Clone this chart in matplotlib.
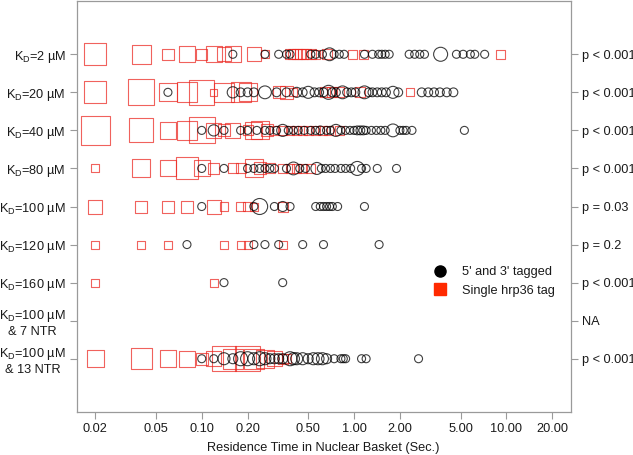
import matplotlib
matplotlib.use('Agg')
import matplotlib.pyplot as plt
from matplotlib.lines import Line2D

plt.rcParams['font.family'] = ['Liberation Sans', 'DejaVu Sans']
plt.rcParams['mathtext.fontset'] = 'custom'
plt.rcParams['mathtext.rm'] = 'Liberation Sans'
plt.rcParams['mathtext.it'] = 'Liberation Sans:italic'
plt.rcParams['mathtext.default'] = 'regular'

# ---------------- data ----------------
row_labels = [r'K$_{D}$=2 µM', r'K$_{D}$=20 µM', r'K$_{D}$=40 µM', r'K$_{D}$=80 µM',
              r'K$_{D}$=100 µM', r'K$_{D}$=120 µM', r'K$_{D}$=160 µM',
              'K$_{D}$=100 µM\n& 7 NTR', 'K$_{D}$=100 µM\n& 13 NTR']
p_labels = ['p < 0.001', 'p < 0.001', 'p < 0.001', 'p < 0.001', 'p = 0.03',
            'p = 0.2', 'p < 0.001', 'NA', 'p < 0.001']
x_ticks = [0.02, 0.05, 0.1, 0.2, 0.5, 1, 2, 5, 10, 20]
x_tick_labels = ['0.02', '0.05', '0.10', '0.20', '0.50', '1.00', '2.00', '5.00', '10.00', '20.00']

# Single hrp36 tag (squares): residence times and relative marker size
sq_times = [
    [0.02, 0.04, 0.06, 0.08, 0.10, 0.12, 0.14, 0.16, 0.22, 0.26, 0.38, 0.40, 0.42, 0.44, 0.46, 0.48, 0.52, 0.56, 0.66, 0.98, 1.16, 9.2],
    [0.02, 0.04, 0.06, 0.08, 0.10, 0.12, 0.14, 0.18, 0.20, 0.32, 0.36, 0.40, 0.64, 0.72, 0.80, 1.10, 2.34],
    [0.02, 0.04, 0.06, 0.08, 0.10, 0.12, 0.14, 0.16, 0.20, 0.22, 0.24, 0.27, 0.30, 0.34, 0.38, 0.42, 0.46, 0.50, 0.56, 0.62, 0.68, 0.80],
    [0.02, 0.04, 0.06, 0.08, 0.10, 0.12, 0.16, 0.18, 0.22, 0.24, 0.28, 0.34, 0.38, 0.42, 0.46, 0.52],
    [0.02, 0.04, 0.06, 0.08, 0.12, 0.14, 0.18, 0.20, 0.22, 0.34],
    [0.02, 0.04, 0.06, 0.14, 0.18, 0.20, 0.34],
    [0.02, 0.12],
    [],
    [0.02, 0.04, 0.06, 0.08, 0.10, 0.12, 0.14, 0.16, 0.20, 0.22, 0.26, 0.30, 0.34, 0.36],
]
sq_sizes = [
    [2.75, 2.4, 1.4, 2.0, 1.4, 2.0, 1.75, 2.0, 1.75, 1.0, 1.25, 1.25, 1.25, 1.25, 1.25, 1.25, 1.25, 1.1, 1.25, 1.1, 1.1, 1.1],
    [2.75, 3.25, 2.25, 2.5, 3.1, 0.9, 2.4, 2.5, 2.25, 1.5, 1.6, 1.0, 1.25, 1.25, 1.25, 1.25, 1.0],
    [3.6, 3.0, 2.1, 2.4, 3.25, 1.9, 1.5, 1.9, 1.25, 2.1, 2.25, 1.5, 1.1, 1.1, 1.1, 1.1, 1.1, 1.1, 1.1, 1.1, 1.1, 1.1],
    [1.0, 2.25, 2.0, 2.75, 2.0, 1.4, 1.25, 1.25, 2.25, 1.5, 1.25, 1.1, 1.1, 1.1, 1.1, 1.1],
    [1.75, 1.5, 1.5, 1.5, 1.75, 1.1, 1.1, 1.1, 1.0, 1.25],
    [1.0, 1.0, 1.0, 1.0, 1.0, 1.0, 1.0],
    [1.0, 1.0],
    [],
    [2.1, 2.6, 2.1, 2.0, 1.5, 1.9, 3.1, 2.5, 3.1, 2.5, 2.25, 1.9, 1.25, 1.1],
]

# 5' and 3' tagged (circles): residence times and relative marker size
ci_times = [
    [0.16, 0.26, 0.32, 0.36, 0.38, 0.52, 0.56, 0.62, 0.69, 0.74, 0.80, 0.86, 1.17, 1.32, 1.45, 1.52, 1.60, 1.70, 2.3, 2.5, 2.7, 2.9, 3.7, 4.7, 5.2, 5.8, 6.2, 7.2],
    [0.06, 0.16, 0.18, 0.20, 0.22, 0.26, 0.31, 0.36, 0.42, 0.46, 0.50, 0.55, 0.59, 0.63, 0.68, 0.72, 0.76, 0.84, 0.90, 0.96, 1.02, 1.17, 1.25, 1.32, 1.42, 1.52, 1.62, 1.8, 1.95, 2.78, 3.07, 3.35, 3.66, 4.06, 4.49],
    [0.10, 0.12, 0.14, 0.18, 0.20, 0.23, 0.26, 0.28, 0.31, 0.34, 0.37, 0.40, 0.43, 0.47, 0.52, 0.56, 0.60, 0.66, 0.70, 0.76, 0.82, 0.88, 0.94, 1.00, 1.05, 1.10, 1.15, 1.20, 1.30, 1.40, 1.50, 1.60, 1.80, 2.0, 2.1, 2.2, 2.4, 5.3],
    [0.10, 0.14, 0.20, 0.22, 0.24, 0.26, 0.28, 0.30, 0.36, 0.40, 0.44, 0.48, 0.57, 0.61, 0.65, 0.70, 0.75, 0.82, 0.88, 0.95, 1.05, 1.12, 1.20, 1.42, 1.90],
    [0.10, 0.22, 0.24, 0.30, 0.34, 0.38, 0.56, 0.60, 0.63, 0.66, 0.69, 0.72, 0.78, 1.17],
    [0.08, 0.22, 0.26, 0.32, 0.46, 0.63, 1.46],
    [0.14, 0.34],
    [],
    [0.10, 0.12, 0.14, 0.16, 0.18, 0.20, 0.22, 0.24, 0.26, 0.28, 0.30, 0.32, 0.34, 0.38, 0.40, 0.42, 0.46, 0.50, 0.54, 0.58, 0.62, 0.66, 0.74, 0.82, 0.85, 0.88, 1.12, 1.20, 2.65],
]
ci_sizes = [
    [1.0, 1.0, 1.0, 1.0, 1.0, 1.0, 1.0, 1.0, 1.6, 1.0, 1.0, 1.0, 1.0, 1.0, 1.0, 1.0, 1.0, 1.0, 1.0, 1.0, 1.0, 1.0, 1.75, 1.0, 1.0, 1.0, 1.0, 1.0],
    [1.0, 1.4, 1.1, 1.1, 1.1, 1.6, 1.1, 1.1, 1.25, 1.1, 1.5, 1.1, 1.1, 1.1, 1.75, 1.1, 1.1, 1.6, 1.1, 1.1, 1.1, 1.6, 1.1, 1.1, 1.1, 1.1, 1.1, 1.5, 1.1, 1.1, 1.1, 1.1, 1.1, 1.1, 1.1],
    [1.0, 1.4, 1.0, 1.0, 1.0, 1.0, 1.0, 1.0, 1.0, 1.5, 1.0, 1.0, 1.0, 1.0, 1.0, 1.0, 1.1, 1.0, 1.0, 1.5, 1.0, 1.0, 1.0, 1.0, 1.1, 1.1, 1.1, 1.0, 1.0, 1.0, 1.0, 1.0, 1.6, 1.0, 1.0, 1.0, 1.0, 1.0],
    [1.0, 1.0, 1.0, 1.0, 1.0, 1.0, 1.0, 1.0, 1.0, 1.6, 1.0, 1.0, 1.5, 1.0, 1.0, 1.0, 1.0, 1.0, 1.0, 1.0, 1.75, 1.0, 1.0, 1.0, 1.0],
    [1.0, 1.0, 2.0, 1.0, 1.25, 1.0, 1.0, 1.0, 1.0, 1.0, 1.0, 1.0, 1.0, 1.0],
    [1.0, 1.0, 1.0, 1.0, 1.0, 1.0, 1.0],
    [1.0, 1.0],
    [],
    [1.0, 1.0, 1.5, 1.25, 1.75, 1.75, 1.5, 1.75, 1.5, 1.25, 1.25, 1.25, 1.25, 1.75, 1.5, 1.5, 1.5, 1.25, 1.5, 1.5, 1.5, 1.25, 1.0, 1.0, 1.0, 1.0, 1.0, 1.0, 1.0],
]
legend_labels = ["5' and 3' tagged", 'Single hrp36 tag']

# ---------------- plot ----------------
BASE_PX = 8.0          # marker size (pixels) for relative size 1
PT_PER_PX = 0.72
FS = 9.2
red_edge = (0.92, 0.15, 0.12, 0.72)
black_edge = (0.0, 0.0, 0.0, 0.75)
frame_col = '#9a9a9a'
text_col = '#1a1a1a'

fig = plt.figure(figsize=(6.33, 4.55), dpi=100)
ax = fig.add_axes([0.1216, 0.0945, 0.9013 - 0.1216, 0.9978 - 0.0945])
ax.set_xscale('log')
ax.set_xlim(10 ** -1.819, 10 ** 1.421)
ax.set_ylim(-0.4, 10.4)

n_rows = len(row_labels)
ypos = [n_rows - i for i in range(n_rows)]

for i in range(n_rows):
    y = ypos[i]
    if sq_times[i]:
        ax.scatter(sq_times[i], [y] * len(sq_times[i]), marker='s',
                   s=[(BASE_PX * c * PT_PER_PX) ** 2 for c in sq_sizes[i]],
                   facecolors='none', edgecolors=[red_edge], linewidths=0.8, zorder=2)
    if ci_times[i]:
        ax.scatter(ci_times[i], [y] * len(ci_times[i]), marker='o',
                   s=[(BASE_PX * c * PT_PER_PX) ** 2 for c in ci_sizes[i]],
                   facecolors='none', edgecolors=[black_edge], linewidths=0.8, zorder=3)

ax.set_xticks(x_ticks)
ax.set_xticklabels(x_tick_labels)
ax.minorticks_off()
ax.set_yticks(ypos)
ax.set_yticklabels(row_labels)
for lab in ax.get_yticklabels():
    lab.set_multialignment('center')
ax.set_xlabel('Residence Time in Nuclear Basket (Sec.)', fontsize=FS, color=text_col, labelpad=5)
ax.tick_params(axis='both', which='major', length=5, width=0.8, color=frame_col,
               labelsize=FS, labelcolor=text_col, pad=3)
for sp in ax.spines.values():
    sp.set_color(frame_col)
    sp.set_linewidth(0.9)

ax2 = ax.twinx()
ax2.set_ylim(ax.get_ylim())
ax2.set_yticks(ypos)
ax2.set_yticklabels(p_labels)
ax2.tick_params(axis='y', length=5, width=0.8, color=frame_col,
                labelsize=FS, labelcolor=text_col, pad=3)
for sp in ax2.spines.values():
    sp.set_visible(False)

handles = [Line2D([], [], marker='o', ls='', color='black', markersize=8),
           Line2D([], [], marker='s', ls='', color='#ff2a00', markersize=8)]
leg = ax.legend(handles, legend_labels, loc='center left', bbox_to_anchor=(0.725, 0.3175),
                frameon=False, handlelength=0.8, handletextpad=1.3, labelspacing=0.5,
                borderpad=0, borderaxespad=0, fontsize=FS)
for t in leg.get_texts():
    t.set_color(text_col)

fig.savefig('out.png', dpi=100)
